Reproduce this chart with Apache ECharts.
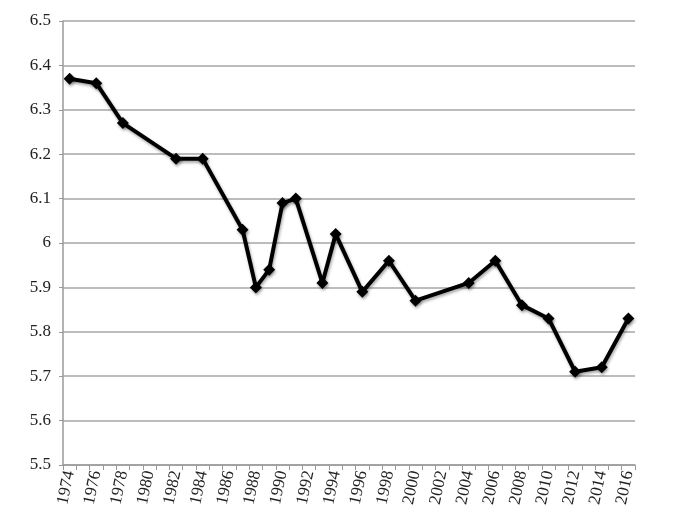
<!DOCTYPE html>
<html>
<head>
<meta charset="utf-8">
<script src="https://cdn.jsdelivr.net/npm/echarts@6/dist/echarts.min.js"></script>
<style>html,body{margin:0;padding:0;background:#fff}#c{width:687px;height:519px}</style>
</head>
<body>
<div id="c"></div>
<script>
var categories = [];
for (var y = 1974; y <= 2016; y++) categories.push(String(y));
var years = ['1974','1976','1978','1982','1984','1987','1988','1989','1990','1991','1993','1994','1996','1998','2000','2004','2006','2008','2010','2012','2014','2016'];
var values = [6.37,6.36,6.27,6.19,6.19,6.03,5.90,5.94,6.09,6.10,5.91,6.02,5.89,5.96,5.87,5.91,5.96,5.86,5.83,5.71,5.72,5.83];
var yTicks = {min: 5.5, max: 6.5, interval: 0.1};

var chart = echarts.init(document.getElementById('c'));
chart.setOption({
  animation: false,
  backgroundColor: '#fff',
  grid: {left: 63, right: 52, top: 21, bottom: 54},
  xAxis: {
    type: 'category',
    data: categories,
    boundaryGap: true,
    axisLine: {lineStyle: {color: '#9a9a9a', width: 1.5}},
    axisTick: {show: true, interval: 0, length: 5, lineStyle: {color: '#9a9a9a'}},
    axisLabel: {interval: 1, rotate: 78, fontFamily: 'Liberation Serif', fontSize: 17, color: '#222', margin: 6}
  },
  yAxis: {
    type: 'value',
    min: yTicks.min, max: yTicks.max, interval: yTicks.interval,
    axisLine: {show: true, lineStyle: {color: '#9a9a9a', width: 1.5}},
    axisTick: {show: true, length: 4, lineStyle: {color: '#9a9a9a'}},
    splitLine: {lineStyle: {color: '#a6a6a6', width: 1.5}},
    axisLabel: {fontFamily: 'Liberation Serif', fontSize: 17, color: '#222', margin: 12,
      formatter: function (v) { return String(Math.round(v * 10) / 10); }}
  },
  series: [{
    type: 'line',
    data: years.map(function (y, i) { return [y, values[i]]; }),
    symbol: 'diamond',
    symbolSize: 12,
    showAllSymbol: true,
    lineStyle: {color: '#000', width: 4, shadowColor: 'rgba(0,0,0,0.35)', shadowBlur: 3, shadowOffsetX: 1, shadowOffsetY: 2},
    itemStyle: {color: '#000', shadowColor: 'rgba(0,0,0,0.35)', shadowBlur: 3, shadowOffsetX: 1, shadowOffsetY: 2}
  }]
});
</script>
</body>
</html>
